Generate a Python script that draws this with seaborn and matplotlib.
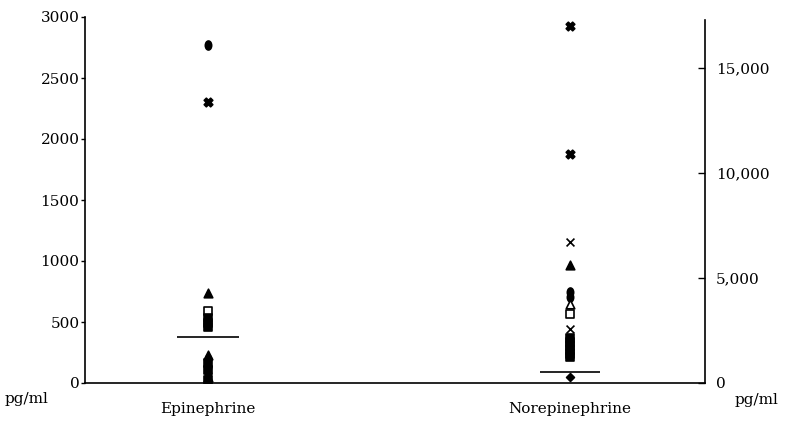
import pandas as pd
import matplotlib
matplotlib.use("Agg")
import matplotlib.pyplot as plt
import seaborn as sns
from matplotlib.markers import MarkerStyle
from matplotlib.transforms import Affine2D
from matplotlib.ticker import FuncFormatter

# categories on the x axis
categories = ["Epinephrine", "Norepinephrine"]

# Epinephrine (left axis, pg/ml)
epi_values = [2770, 2300, 740, 590, 530, 495, 460, 230, 195, 165, 135, 105, 75, 50, 25, 5]
epi_kinds = ["dot", "star", "tri", "osq", "sq", "sq", "sq", "tri", "dot", "sq", "dot",
             "sq", "dot", "tri", "sq", "dot"]
epi_median = 375

# Norepinephrine (right axis, pg/ml)
ne_values = [17000, 10900, 6700, 5600, 4350, 4100, 3750, 3300, 2550, 2150, 1950, 1750,
             1550, 1380, 1220, 300]
ne_kinds = ["star", "star", "x", "tri", "dot", "dot", "otri", "osq", "x", "sq", "sq", "sq",
            "sq", "sq", "sq", "dia"]
ne_median = 530

left_ticks = [0, 500, 1000, 1500, 2000, 2500, 3000]
right_ticks = [0, 5000, 10000, 15000]

sns.set_theme(style="white", rc={"text.color": "black", "xtick.color": "black",
                                 "ytick.color": "black", "axes.labelcolor": "black"})
plt.rcParams["font.family"] = ["DejaVu Serif"]

epi = pd.DataFrame({"substance": categories[0], "value": epi_values, "kind": epi_kinds})
ne = pd.DataFrame({"substance": categories[1], "value": ne_values, "kind": ne_kinds})
for d in (epi, ne):
    d["pos"] = d["substance"].map({c: i for i, c in enumerate(categories)})

oval = MarkerStyle("o", transform=Affine2D().scale(0.7, 1.0))
styles = {
    "dot": dict(marker=oval, facecolor="black", s=42),
    "star": dict(marker="X", facecolor="black", s=38),
    "x": dict(marker="x", facecolor="black", s=32),
    "tri": dict(marker="^", facecolor="black", s=38),
    "otri": dict(marker="^", facecolor="white", s=38),
    "sq": dict(marker="s", facecolor="black", s=28),
    "osq": dict(marker="s", facecolor="white", s=28),
    "dia": dict(marker="D", facecolor="black", s=16),
}

fig = plt.figure(figsize=(7.86, 4.26), dpi=100)
ax = fig.add_axes([85 / 786, 1 - 383 / 426, 620 / 786, 366 / 426])
ax2 = ax.twinx()

for axis, d in ((ax, epi), (ax2, ne)):
    for kind, grp in d.groupby("kind"):
        st = styles[kind]
        sns.scatterplot(data=grp, x="pos", y="value", ax=axis, marker=st["marker"],
                        s=st["s"], color="black", facecolor=st["facecolor"],
                        edgecolor="black", linewidth=1.2, zorder=3)

ax.hlines(epi_median, 0 - 0.086, 0 + 0.086, color="black", lw=1.2)
ax2.hlines(ne_median, 1 - 0.083, 1 + 0.083, color="black", lw=1.2)

ax.set_xlim(-0.34, 1.373)
ax.set_ylim(0, 3000)
ax2.set_ylim(0, 17440)
ax.set_xticks(range(len(categories)))
ax.set_xticklabels(categories, fontsize=11)
ax.set_yticks(left_ticks)
ax.set_yticklabels([str(t) for t in left_ticks], fontsize=11)
ax2.set_yticks(right_ticks)
ax2.yaxis.set_major_formatter(FuncFormatter(lambda v, p: f"{int(v):,}"))
ax2.tick_params(axis="y", labelsize=11)
ax.set_xlabel("")
ax.set_ylabel("")
ax2.set_ylabel("")
ax2.set_xlabel("")

ax.tick_params(axis="x", length=0, pad=14, labelcolor="black")
ax.tick_params(axis="y", direction="out", length=3, width=1, color="black", pad=1,
               labelcolor="black")
ax2.tick_params(axis="y", direction="in", length=5, width=1, color="black", pad=8,
                labelcolor="black")

for a in (ax, ax2):
    a.spines["top"].set_visible(False)
    for s in ("left", "right", "bottom"):
        a.spines[s].set_color("black")
        a.spines[s].set_linewidth(1.2)
ax.spines["right"].set_visible(False)
ax2.spines["left"].set_visible(False)
ax2.spines["bottom"].set_visible(False)
ax2.spines["right"].set_bounds(0, 17300)

fig.text(5 / 786, 1 - 399 / 426, "pg/ml", fontsize=11, va="center", ha="left", color="black")
fig.text(735 / 786, 1 - 400 / 426, "pg/ml", fontsize=11, va="center", ha="left", color="black")

fig.savefig("out.png", dpi=100, facecolor="white")
